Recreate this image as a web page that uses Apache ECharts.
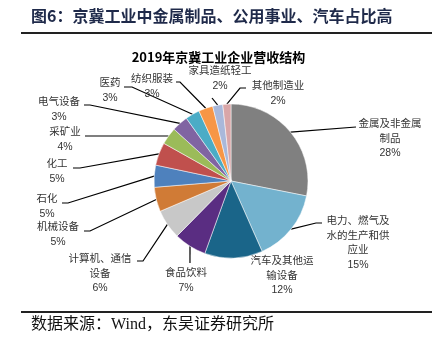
<!DOCTYPE html>
<html><head><meta charset="utf-8">
<script src="https://cdn.jsdelivr.net/npm/echarts@6/dist/echarts.min.js"></script>
<style>html,body{margin:0;padding:0;background:#fff}#c{width:437px;height:348px}</style>
</head><body><div id="c"></div>
<script>
// Data
var categories = ['金属及非金属制品','电力、燃气及水的生产和供应业','汽车及其他运输设备','食品饮料','计算机、通信设备','机械设备','石化','化工','采矿业','电气设备','医药','纺织服装','家具造纸轻工','其他制造业'];
var shares = [28, 15.2, 12.1, 6.8, 6.2, 5.1, 4.6, 4.8, 3.6, 3.4, 3.0, 3.0, 2.1, 1.7];
var shareLabels = ['28%','15%','12%','7%','6%','5%','5%','5%','4%','3%','3%','3%','2%','2%'];
var colors = ['#808080','#73B2CE','#1A6589','#5A2D82','#C8C8C8','#D07B36','#4E81BD','#C0504D','#9BBB59','#8064A2','#4BACC6','#F79646','#A9B8DA','#D9A6A8'];

// label placement (layout styling): [centerX, topY], and leader line [elbow, end]
var labelPos = [[390,117],[358,214],[282,254],[186,266],[100,252],[58,220],[47,192],[57,157],[65,125],[59,95],[110,76],[152,72],[220,64],[278,79]];
var leader = [
  [[356,127],[356,127]],
  [[316,223],[322,223]],
  null,
  [[190,263],[190,263]],
  [[143,261],[137,261]],
  [[90,231],[84,231]],
  [[68,203],[62,203]],
  [[80,168],[73,168]],
  [[85,136],[85,136]],
  [[90,105],[84,105]],
  [[132,87],[124,87]],
  [[180,82],[176,82]],
  [[212,98],[212,98]],
  [[240,88],[246,88]]
];

var chart = echarts.init(document.getElementById('c'), null, {renderer:'canvas'});
var data = categories.map(function(n,i){
  var d = {name:n, value:shares[i], itemStyle:{color:colors[i]}};
  if(!leader[i]) d.labelLine = {show:false};
  return d;
});
chart.setOption({
  animation:false,
  graphic:[
    {type:'text', left:31, top:8, style:{text:'图6：京冀工业中金属制品、公用事业、汽车占比高', font:'bold 16px "Noto Sans CJK SC"', fill:'#1F2A4A'}},
    {type:'rect', shape:{x:21,y:32,width:411,height:2}, style:{fill:'#222'}},
    {type:'rect', shape:{x:21,y:311,width:411,height:2}, style:{fill:'#222'}},
    {type:'text', left:31, top:317, style:{text:'数据来源：Wind，东吴证券研究所', font:'16px "Liberation Serif","Noto Sans CJK SC"', fill:'#111'}}
  ],
  title:{text:'2019年京冀工业企业营收结构', left:'center', top:46, textStyle:{fontSize:13, fontWeight:'bold', color:'#000', fontFamily:'"Noto Sans CJK SC"'}},
  series:[{
    type:'pie', center:[231,181], radius:[0,77], startAngle:90, clockwise:true,
    data:data,
    itemStyle:{borderColor:'#fff', borderWidth:0.5},
    label:{show:true, position:'outside', formatter:function(p){return p.name+'\n'+shareLabels[p.dataIndex];},
      fontSize:10.5, lineHeight:14.5, color:'#333', fontFamily:'"Liberation Sans","Noto Sans CJK SC"', width:67, overflow:'break', align:'center'},
    labelLine:{show:true, length:10, length2:6, lineStyle:{color:'#000', width:1.2}},
    labelLayout:function(p){
      var i = p.dataIndex, pos = labelPos[i];
      var out = {x:pos[0], y:pos[1], align:'center', verticalAlign:'top'};
      if(leader[i] && p.labelLinePoints){
        out.labelLinePoints = [p.labelLinePoints[0], leader[i][0], leader[i][1]];
      }
      return out;
    }
  }]
});
</script></body></html>
